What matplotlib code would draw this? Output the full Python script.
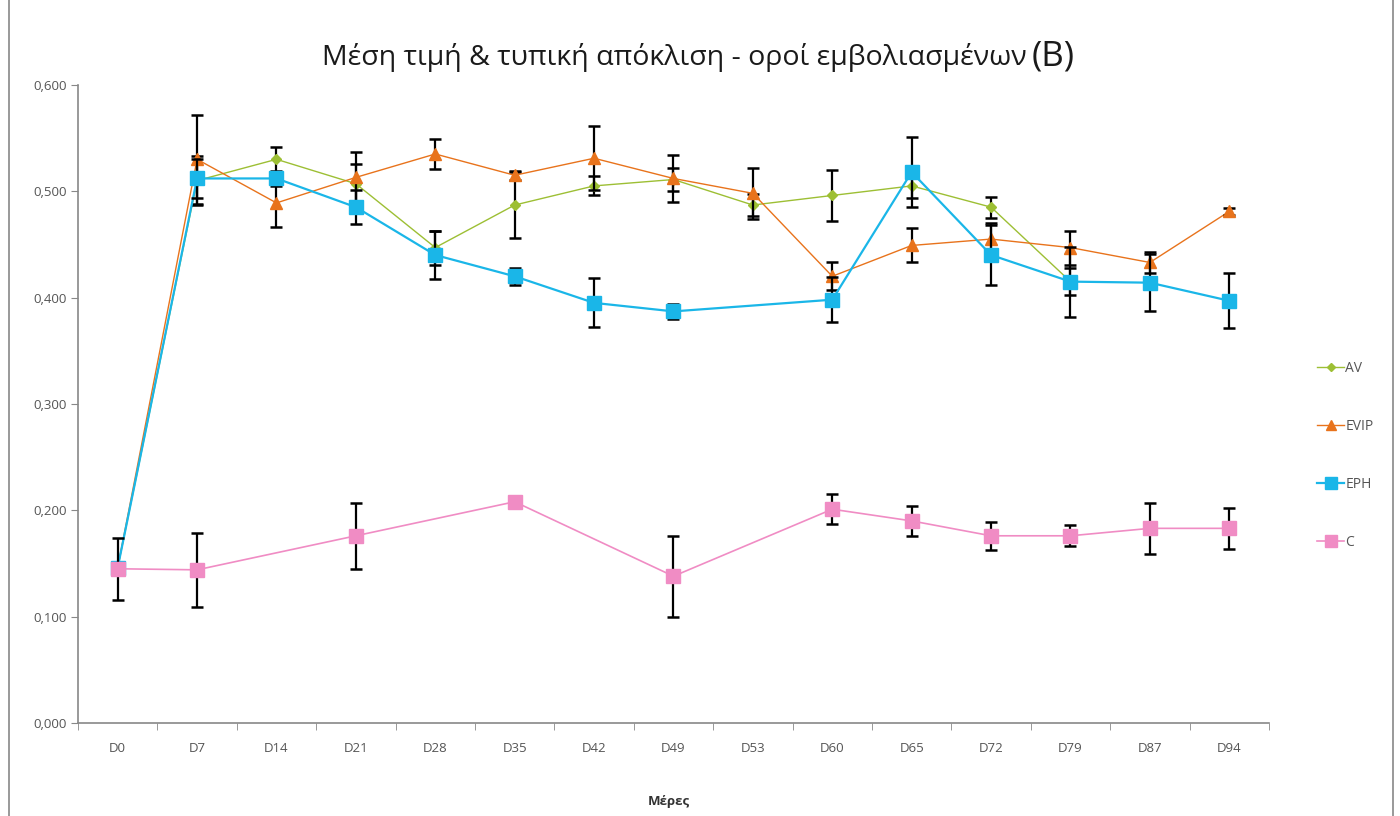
import numpy as np
import matplotlib
matplotlib.use('Agg')
import matplotlib.pyplot as plt
from matplotlib.lines import Line2D
from matplotlib.ticker import FuncFormatter, FixedLocator

plt.rcParams['font.family'] = ['Open Sans', 'DejaVu Sans']

# ---------------- data ----------------
days = ['D0', 'D7', 'D14', 'D21', 'D28', 'D35', 'D42', 'D49', 'D53',
        'D60', 'D65', 'D72', 'D79', 'D87', 'D94']
nan = np.nan

av = [0.146, 0.510, 0.530, 0.507, 0.447, 0.487, 0.505, 0.511, 0.487,
      0.496, 0.505, 0.485, 0.415, nan, nan]
av_err = [0.0, 0.023, 0.012, 0.019, 0.016, 0.031, 0.009, 0.011, 0.010,
          0.024, 0.011, 0.010, 0.013, nan, nan]

evip = [0.146, 0.530, 0.489, 0.513, 0.535, 0.515, 0.531, 0.512, 0.498,
        0.420, 0.449, 0.455, 0.447, 0.433, 0.481]
evip_err = [0.0, 0.042, 0.023, 0.024, 0.014, 0.004, 0.030, 0.022, 0.024,
            0.013, 0.016, 0.015, 0.016, 0.010, 0.003]

eph = [0.146, 0.512, 0.512, 0.485, 0.440, 0.420, 0.395, 0.387, nan,
       0.398, 0.518, 0.440, 0.415, 0.414, 0.397]
eph_err = [0.0, 0.018, 0.007, 0.016, 0.023, 0.008, 0.023, 0.007, nan,
           0.021, 0.033, 0.028, 0.033, 0.027, 0.026]

c = [0.145, 0.144, nan, 0.176, nan, 0.208, nan, 0.138, nan,
     0.201, 0.190, 0.176, 0.176, 0.183, 0.183]
c_err = [0.029, 0.035, nan, 0.031, nan, 0.0, nan, 0.038, nan,
         0.014, 0.014, 0.013, 0.010, 0.024, 0.019]

series = [
    # label, values, errors, colour, marker, marker size, line width
    ('AV', av, av_err, '#9dbf34', 'D', 5, 1.0),
    ('EVIP', evip, evip_err, '#e8731c', '^', 8, 1.0),
    ('EPH', eph, eph_err, '#1ab6e8', 's', 10, 1.6),
    ('C', c, c_err, '#f08cc4', 's', 10, 1.2),
]

# ---------------- figure ----------------
fig = plt.figure(figsize=(14, 8.16), dpi=100)
ax = fig.add_axes([0.0557, 0.114, 0.8507, 0.782])

x = np.arange(len(days))
handles = []
for z, (name, vals, errs, col, mk, ms, lw) in enumerate(series):
    v = np.array(vals, dtype=float)
    e = np.array(errs, dtype=float)
    ok = ~np.isnan(v)
    ax.plot(x[ok], v[ok], '-', color=col, lw=lw, zorder=2 + z)
    ax.errorbar(x[ok], v[ok], yerr=e[ok], fmt='none', ecolor='black',
                elinewidth=1.6, capsize=4, capthick=1.8, zorder=2 + z)
    ax.plot(x[ok], v[ok], mk, color=col, ms=ms, mec=col, zorder=2.5 + z)
    handles.append(Line2D([0], [0], color=col, lw=lw, marker=mk, ms=ms * 0.9,
                          mec=col, label=name))

ax.set_xlim(-0.5, len(days) - 0.5)
ax.set_ylim(0, 0.6)
ax.set_yticks(np.arange(0, 0.61, 0.1))
ax.yaxis.set_major_formatter(FuncFormatter(lambda v, p: f'{v:.3f}'.replace('.', ',')))
ax.set_xticks(x)
ax.set_xticklabels(days)
ax.xaxis.set_minor_locator(FixedLocator(np.arange(-0.5, len(days), 1.0)))
ax.tick_params(axis='x', which='major', length=0, pad=14, labelsize=9.5,
               labelcolor='#555555')
ax.tick_params(axis='x', which='minor', length=5, color='#888888', direction='out')
ax.tick_params(axis='y', length=5, color='#888888', labelsize=9.5,
               labelcolor='#555555', pad=3)

for s in ['top', 'right']:
    ax.spines[s].set_visible(False)
for s in ['left', 'bottom']:
    ax.spines[s].set_color('#888888')
    ax.spines[s].set_linewidth(1.2)

# title: the "(Β)" is set larger than the rest, as in the reference
fig.text(0.733, 0.929, 'Μέση τιμή & τυπική απόκλιση - οροί εμβολιασμένων',
         ha='right', va='center', fontsize=20.5, color='#1a1a1a')
fig.text(0.737, 0.931, '(Β)', ha='left', va='center', fontsize=25,
         color='#1a1a1a')
fig.text(0.478, 0.018, 'Μέρες', ha='center', va='center', fontsize=9.5,
         fontweight='bold', color='#333333')

leg = fig.legend(handles=handles, loc='upper left', bbox_to_anchor=(0.937, 0.565),
                 frameon=False, fontsize=10, labelspacing=3.1, handlelength=1.9,
                 handletextpad=0.1, borderaxespad=0)
for t in leg.get_texts():
    t.set_color('#555555')

# chart frame edges (left and right) as in the cropped Excel chart
fig.add_artist(Line2D([0.0065, 0.0065], [0, 1], color='#888888', lw=1.2))
fig.add_artist(Line2D([0.995, 0.995], [0, 1], color='#888888', lw=1.2))

fig.savefig('out.png', dpi=100)
